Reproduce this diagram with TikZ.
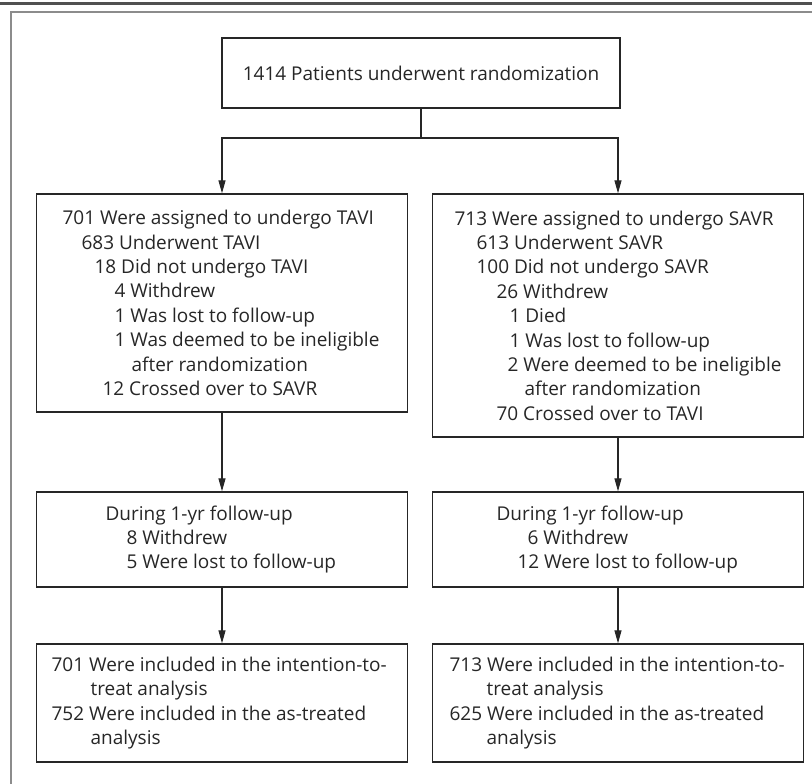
\documentclass[tikz,border=0pt]{standalone}
\usepackage{fontspec}
\setmainfont{Open Sans}
\usetikzlibrary{arrows.meta,positioning}
\definecolor{rulegray}{HTML}{505050}
\definecolor{framegray}{HTML}{8C8C8C}
\definecolor{inkgray}{HTML}{262626}
\newcommand{\ind}[1]{\hspace*{#1pt}}

\begin{document}
\begin{tikzpicture}[x=1pt,y=-1pt,
  box/.style={draw=inkgray,line width=1.3pt,minimum width=371pt,inner sep=0pt},
  txt/.style={anchor=west,align=left,inner sep=0pt,text=inkgray,
    font=\fontsize{19}{24.4}\selectfont},
  arr/.style={draw=inkgray,line width=1.1pt,-{Triangle[length=13pt,width=7pt]}}]
\useasboundingbox (0,0) rectangle (812,784);
% rule and frame
\draw[rulegray,line width=2.5pt] (0,3.5) -- (812,3.5);
\draw[framegray,line width=2pt] (11,790) |- (820,12.5);

\node[box,minimum width=398pt,minimum height=70pt,text=inkgray,
  font=\fontsize{19}{24.4}\selectfont] (rand) at (421,73)
  {1414 Patients underwent randomization};

% boxes
\node[box,minimum height=218pt] (tavi) at (222,303) {};
\node[box,minimum height=243pt] (savr) at (618,315.5) {};
\node[box,minimum height=95pt] (taviFU) at (222,539.5) {};
\node[box,minimum height=95pt] (savrFU) at (618,539.5) {};
\node[box,minimum height=118pt] (taviAn) at (222,703) {};
\node[box,minimum height=118pt] (savrAn) at (618,703) {};

% texts
\node[txt] (taviTxt) at ([xshift=26.5pt]tavi.west)
  {701 Were assigned to undergo TAVI\\
   \ind{19}683 Underwent TAVI\\
   \ind{32}18 Did not undergo TAVI\\
   \ind{52}4 Withdrew\\
   \ind{52}1 Was lost to follow-up\\
   \ind{52}1 Was deemed to be ineligible\\
   \ind{69}after randomization\\
   \ind{40}12 Crossed over to SAVR};
\node[txt] (savrTxt) at ([xshift=22.5pt]savr.west)
  {713 Were assigned to undergo SAVR\\
   \ind{22}613 Underwent SAVR\\
   \ind{22}100 Did not undergo SAVR\\
   \ind{42}26 Withdrew\\
   \ind{55}1 Died\\
   \ind{55}1 Was lost to follow-up\\
   \ind{53}2 Were deemed to be ineligible\\
   \ind{70}after randomization\\
   \ind{42}70 Crossed over to TAVI};
\node[txt] (taviFUTxt) at ([xshift=69.5pt]taviFU.west)
  {During 1-yr follow-up\\
   \ind{21}8 Withdrew\\
   \ind{21}5 Were lost to follow-up};
\node[txt] (savrFUTxt) at ([xshift=64.5pt]savrFU.west)
  {During 1-yr follow-up\\
   \ind{31}6 Withdrew\\
   \ind{21}12 Were lost to follow-up};
\node[txt] (taviAnTxt) at ([xshift=15.5pt]taviAn.west)
  {701 Were included in the intention-to-\\
   \ind{39}treat analysis\\
   752 Were included in the as-treated\\
   \ind{39}analysis};
\node[txt] (savrAnTxt) at ([xshift=17.5pt]savrAn.west)
  {713 Were included in the intention-to-\\
   \ind{37}treat analysis\\
   625 Were included in the as-treated\\
   \ind{37}analysis};

% connectors
\coordinate (split) at (421,138);
\draw[inkgray,line width=1.1pt] (rand.south) -- (split);
\draw[arr] (split) -| (tavi.north);
\draw[arr] (split) -| (savr.north);
\foreach \a/\b in {tavi/taviFU,taviFU/taviAn,savr/savrFU,savrFU/savrAn}
  \draw[arr] (\a) -- (\b);
\end{tikzpicture}
\end{document}
